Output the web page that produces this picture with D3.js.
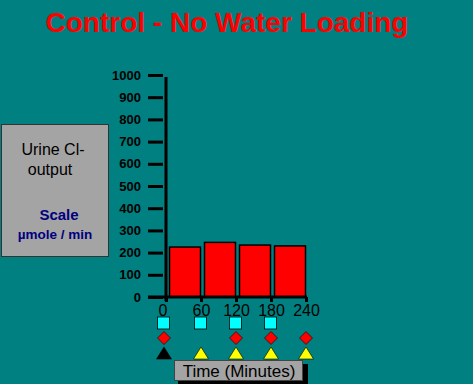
<!DOCTYPE html>
<html><head><meta charset="utf-8">
<script src="https://cdn.jsdelivr.net/npm/d3@7"></script>
<style>html,body{margin:0;padding:0;background:#008080;overflow:hidden}svg{display:block}</style>
</head><body>
<script>
const title = "Control - No Water Loading";
const times = [0, 60, 120, 180, 240];
const barStarts = [0, 60, 120, 180];
const values = [225, 246, 234, 230];
const yTicks = [0,100,200,300,400,500,600,700,800,900,1000];
const squareTimes = [0, 60, 120, 180];
const diamondTimes = [0, 120, 180, 240];
const triangles = [{t:0,c:"#000000"},{t:60,c:"#ffff00"},{t:120,c:"#ffff00"},{t:180,c:"#ffff00"},{t:240,c:"#ffff00"}];

const W=473,H=384;
const FONT="Arial, Liberation Sans, sans-serif";
const svg=d3.select("body").append("svg").attr("width",W).attr("height",H);
svg.append("rect").attr("width",W).attr("height",H).attr("fill","#008080");

const x=d3.scaleLinear().domain([0,240]).range([166,306]);
const y=d3.scaleLinear().domain([0,1000]).range([297,75]);

// title
svg.append("text").attr("x",227).attr("y",32).attr("text-anchor","middle")
 .attr("font-family",FONT).attr("font-weight","bold")
 .attr("font-size",28).attr("fill","#ff0000").text(title);

// left box
svg.append("rect").attr("x",1.5).attr("y",124.5).attr("width",107).attr("height",132)
 .attr("fill","#a4a4a4").attr("stroke","#333").attr("stroke-width",1);
const lb=svg.append("g").attr("font-family",FONT).attr("text-anchor","middle");
lb.append("text").attr("x",53).attr("y",155).attr("font-size",16).attr("fill","#000").text("Urine Cl-");
lb.append("text").attr("x",50).attr("y",175).attr("font-size",16).attr("fill","#000").text("output");
lb.append("text").attr("x",59).attr("y",220).attr("font-size",15).attr("font-weight","bold").attr("fill","#000080").text("Scale");
lb.append("text").attr("x",55).attr("y",239).attr("font-size",13.5).attr("font-weight","bold").attr("fill","#000080").text("µmole / min");

// bars
svg.append("g").selectAll("rect").data(barStarts).join("rect")
 .attr("x",(d)=>x(d)+3.5).attr("width",(d)=>x(d+60)-x(d)-4)
 .attr("y",(d,i)=>y(values[i])).attr("height",(d,i)=>y(0)-y(values[i]))
 .attr("fill","#ff0000").attr("stroke","#000").attr("stroke-width",1.5);

// y axis
const ya=d3.axisLeft(y).tickValues(yTicks).tickSize(15).tickPadding(7).tickFormat(d3.format("d"));
const yg=svg.append("g").attr("transform","translate(163,0)").call(ya);
yg.select(".domain").remove();
yg.selectAll(".tick line").attr("stroke","#000").attr("stroke-width",3);
yg.selectAll(".tick text").attr("font-family",FONT).attr("font-weight","bold").attr("font-size",13).attr("fill","#000");
svg.append("line").attr("x1",166).attr("x2",166).attr("y1",y(1000)+2).attr("y2",y(0)+4).attr("stroke","#000").attr("stroke-width",3);

// x axis
const xa=d3.axisBottom(x).tickValues(times).tickSize(5).tickPadding(3).tickFormat(d3.format("d"));
const xg=svg.append("g").attr("transform",`translate(0,${y(0)})`).call(xa);
xg.select(".domain").remove();
xg.selectAll(".tick line").attr("stroke","#000").attr("stroke-width",3);
xg.selectAll(".tick text").attr("font-family",FONT).attr("font-size",16).attr("fill","#000");
xg.selectAll(".tick").filter(d=>d===0).select("text").attr("dx",-3.5);
svg.append("line").attr("x1",148).attr("x2",307).attr("y1",y(0)).attr("y2",y(0)).attr("stroke","#000").attr("stroke-width",3);

// markers
const mx=(t)=>x(t)+(t===0?-2:0);
svg.append("g").selectAll("rect").data(squareTimes).join("rect")
 .attr("x",d=>mx(d)-6.5).attr("y",317).attr("width",12).attr("height",12)
 .attr("fill","#00ffff").attr("stroke","#000").attr("stroke-width",0.8);
svg.append("g").selectAll("path").data(diamondTimes).join("path")
 .attr("d",d=>{const cx=mx(d),cy=338;return `M${cx},${cy-6.5}L${cx+6.5},${cy}L${cx},${cy+6.5}L${cx-6.5},${cy}Z`;})
 .attr("fill","#ff0000").attr("stroke","#000").attr("stroke-width",0.6);
svg.append("g").selectAll("path").data(triangles).join("path")
 .attr("d",d=>{const cx=mx(d.t);return `M${cx},${347}L${cx+7.5},${359}L${cx-7.5},${359}Z`;})
 .attr("fill",d=>d.c).attr("stroke","#000").attr("stroke-width",0.6);

// time box
svg.append("rect").attr("x",178).attr("y",364).attr("width",130).attr("height",20).attr("fill","#000");
svg.append("rect").attr("x",174.5).attr("y",360.5).attr("width",128).attr("height",20)
 .attr("fill","#a4a4a4").attr("stroke","#444").attr("stroke-width",1);
svg.append("text").attr("x",239).attr("y",377).attr("text-anchor","middle")
 .attr("font-family",FONT).attr("font-size",17).attr("fill","#000").text("Time (Minutes)");
</script>
</body></html>
